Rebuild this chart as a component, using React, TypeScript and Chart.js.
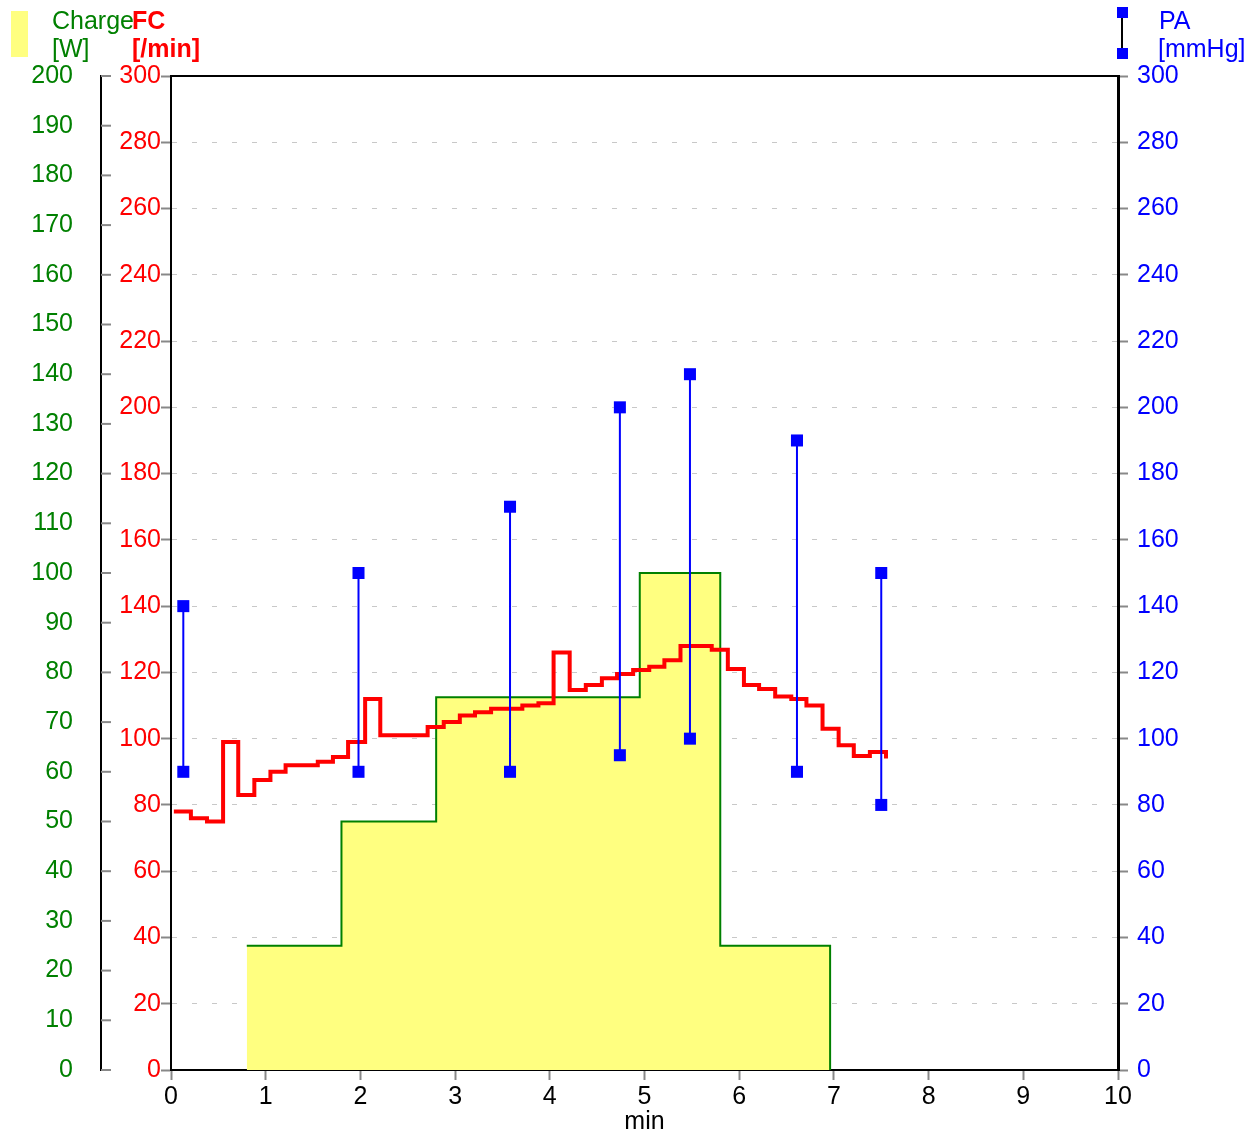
import React, { useEffect, useRef } from "react";
import { Chart, registerables } from "chart.js";

Chart.register(...registerables);

// ---- data ----
const chargeTimes = [0.8, 1.8, 2.8, 4.95, 5.8, 6.96];
const chargeWatts = [25, 50, 75, 100, 25, 0];

const fcTimes = [
  0.03, 0.21, 0.38, 0.55, 0.71, 0.88, 1.05, 1.21, 1.55, 1.71, 1.87, 2.05, 2.21,
  2.71, 2.88, 3.05, 3.21, 3.38, 3.71, 3.88, 4.04, 4.21, 4.38, 4.55, 4.71, 4.88,
  5.05, 5.21, 5.38, 5.71, 5.88, 6.05, 6.21, 6.38, 6.55, 6.71, 6.88, 7.05, 7.21,
  7.38, 7.55,
];
const fcValues = [
  78, 76, 75, 99, 83, 87.5, 90, 92, 93, 94.5, 99, 112, 101,
  103.5, 105, 107, 108, 109, 110, 110.7, 126, 114.7, 116.2, 118.2, 119.5, 120.7,
  121.7, 123.7, 128, 126.8, 121, 116.2, 115, 112.7, 112, 110, 103, 98, 94.8,
  96, 94,
];

const paTimes = [0.13, 1.98, 3.58, 4.74, 5.48, 6.61, 7.5];
const paSystolic = [140, 150, 170, 200, 210, 190, 150];
const paDiastolic = [90, 90, 90, 95, 100, 90, 80];

const xTickStep = 1;
const fcTickStep = 20;
const wattTickStep = 10;
const paTickStep = 20;

const GREEN = "#008000";
const RED = "#ff0000";
const BLUE = "#0000ff";
const YELLOW = "#ffff80";
const FONT_FAMILY = "'Liberation Sans', Arial, sans-serif";
const FONT_SIZE = 25;

const headerPlugin = {
  id: "headerPlugin",
  afterDraw(chart: any) {
    const ctx = chart.ctx as CanvasRenderingContext2D;
    const area = chart.chartArea;
    ctx.save();
    // top border of plot
    ctx.strokeStyle = "#000";
    ctx.lineWidth = 2;
    ctx.beginPath();
    ctx.moveTo(area.left - 1, area.top);
    ctx.lineTo(area.right + 1, area.top);
    ctx.stroke();

    // green axis tick marks (pointing right)
    const yW = chart.scales.yW;
    ctx.strokeStyle = "#888";
    ctx.lineWidth = 2;
    for (let v = yW.min; v <= yW.max; v += wattTickStep) {
      const y = yW.getPixelForValue(v);
      ctx.beginPath();
      ctx.moveTo(yW.right, y);
      ctx.lineTo(yW.right + 10, y);
      ctx.stroke();
    }

    // header legends
    ctx.textBaseline = "alphabetic";
    ctx.textAlign = "left";
    ctx.fillStyle = YELLOW;
    ctx.fillRect(11, 11, 17, 46);
    ctx.font = `${FONT_SIZE}px ${FONT_FAMILY}`;
    ctx.fillStyle = GREEN;
    ctx.fillText("Charge", 52, 29);
    ctx.fillText("[W]", 52, 57);
    ctx.font = `bold ${FONT_SIZE}px ${FONT_FAMILY}`;
    ctx.fillStyle = RED;
    ctx.fillText("FC", 132, 29);
    ctx.fillText("[/min]", 132, 57);

    // PA legend symbol
    ctx.strokeStyle = "#000";
    ctx.lineWidth = 2;
    ctx.beginPath();
    ctx.moveTo(1122, 16);
    ctx.lineTo(1122, 50);
    ctx.stroke();
    ctx.fillStyle = BLUE;
    ctx.fillRect(1117, 7, 11, 11);
    ctx.fillRect(1117, 48, 11, 11);
    ctx.font = `${FONT_SIZE}px ${FONT_FAMILY}`;
    ctx.fillText("PA", 1159, 29);
    ctx.fillText("[mmHg]", 1158, 57);
    ctx.restore();
  },
};

export default function App() {
  const canvasRef = useRef<HTMLCanvasElement | null>(null);

  useEffect(() => {
    if (!canvasRef.current) return;
    const font = { family: FONT_FAMILY, size: FONT_SIZE };

    const chargeData = chargeTimes.map((t, i) => ({ x: t, y: chargeWatts[i] }));
    const fcData = fcTimes.map((t, i) => ({ x: t, y: fcValues[i] }));
    const paData: { x: number; y: number | null }[] = [];
    paTimes.forEach((t, i) => {
      paData.push({ x: t, y: paSystolic[i] });
      paData.push({ x: t, y: paDiastolic[i] });
      paData.push({ x: t, y: null });
    });

    const chart = new Chart(canvasRef.current, {
      type: "line",
      data: {
        datasets: [
          {
            label: "PA",
            data: paData as any,
            yAxisID: "yPA",
            borderColor: BLUE,
            borderWidth: 2,
            pointStyle: "rect",
            pointRadius: 8.5,
            pointBackgroundColor: BLUE,
            pointBorderColor: BLUE,
            pointBorderWidth: 0,
            spanGaps: false,
            fill: false,
            tension: 0,
            order: 0,
          },
          {
            label: "FC",
            data: fcData,
            yAxisID: "yFC",
            borderColor: RED,
            borderWidth: 4,
            pointRadius: 0,
            stepped: true,
            fill: false,
            tension: 0,
            order: 1,
          },
          {
            label: "Charge",
            data: chargeData,
            yAxisID: "yW",
            borderColor: GREEN,
            borderWidth: 2,
            backgroundColor: YELLOW,
            pointRadius: 0,
            stepped: true,
            fill: "origin",
            tension: 0,
            order: 2,
          },
        ],
      },
      options: {
        animation: false,
        responsive: true,
        maintainAspectRatio: false,
        events: [],
        layout: { padding: { top: 76, left: 0, right: 0, bottom: 0 } },
        plugins: {
          legend: { display: false },
          tooltip: { enabled: false },
        },
        scales: {
          x: {
            type: "linear",
            position: "bottom",
            min: 0,
            max: 10,
            ticks: {
              stepSize: xTickStep,
              color: "#000",
              font,
              padding: 2,
              maxRotation: 0,
              autoSkip: false,
            },
            grid: {
              drawOnChartArea: false,
              tickLength: 10,
              tickColor: "#888",
              tickWidth: 2,
            },
            border: { color: "#000", width: 2 },
            title: {
              display: true,
              text: "min",
              color: "#000",
              font: { family: FONT_FAMILY, size: FONT_SIZE, lineHeight: 0.85 },
              padding: 0,
            },
            afterFit: (s: any) => {
              s.height = 63;
            },
          },
          yFC: {
            type: "linear",
            position: "left",
            weight: 0,
            min: 0,
            max: 300,
            ticks: { stepSize: fcTickStep, color: RED, font, padding: 0 },
            grid: {
              color: "#c8c8c8",
              lineWidth: 1,
              tickLength: 10,
              tickColor: "#888",
              tickWidth: 2,
            },
            border: { color: "#000", width: 2, dash: [5, 15] },
            afterFit: (s: any) => {
              s.width = 70;
            },
          },
          yW: {
            type: "linear",
            position: "left",
            weight: 1,
            min: 0,
            max: 200,
            ticks: { stepSize: wattTickStep, color: GREEN, font, padding: 28 },
            grid: { display: false, drawOnChartArea: false, drawTicks: false },
            border: { display: true, color: "#000", width: 2 },
            afterFit: (s: any) => {
              s.width = 101;
            },
          },
          yPA: {
            type: "linear",
            position: "right",
            min: 0,
            max: 300,
            ticks: { stepSize: paTickStep, color: BLUE, font, padding: 9 },
            grid: {
              drawOnChartArea: false,
              tickLength: 10,
              tickColor: "#888",
              tickWidth: 2,
            },
            border: { color: "#000", width: 3 },
            afterFit: (s: any) => {
              s.width = 139;
            },
          },
        },
      } as any,
      plugins: [headerPlugin],
    });
    return () => chart.destroy();
  }, []);

  return (
    <div
      style={{
        position: "absolute",
        left: 0,
        top: 0,
        width: 1257,
        height: 1133,
        background: "#fff",
      }}
    >
      <canvas ref={canvasRef} />
    </div>
  );
}
